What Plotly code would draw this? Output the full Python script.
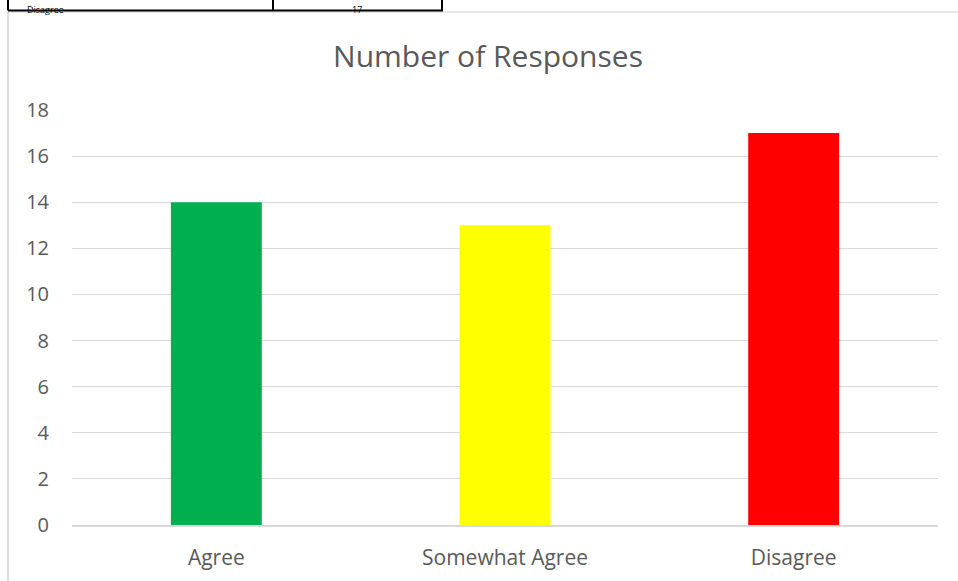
import plotly.graph_objects as go

categories = ["Agree", "Somewhat Agree", "Disagree"]
responses = [14, 13, 17]
bar_colors = ["#00B050", "#FFFF00", "#FF0000"]
y_ticks = [0, 2, 4, 6, 8, 10, 12, 14, 16, 18]
table_label = "Disagree"
table_value = "17"

W, H = 958, 581
def px(x):
    return x / W
def py(y):
    return (H - y) / H

FONT = "Open Sans"
GRAY = "#595959"

fig = go.Figure(go.Bar(
    x=categories, y=responses, marker_color=bar_colors,
    marker_line_width=0, width=0.315, hoverinfo="skip"))

fig.update_layout(
    width=W, height=H,
    margin=dict(l=0, r=0, t=0, b=0, autoexpand=False),
    paper_bgcolor="white", plot_bgcolor="white",
    showlegend=False,
    font=dict(family=FONT, color=GRAY, size=20),
    title=dict(text="Number of Responses", x=px(488), xanchor="center",
               y=py(56), yanchor="middle",
               font=dict(family=FONT, size=30, color=GRAY)),
    xaxis=dict(domain=[px(72), px(938)], showgrid=False, showline=True,
               linecolor="#D9D9D9", linewidth=1.5, ticks="", automargin=False,
               ticklabelstandoff=13, tickfont=dict(size=21, color=GRAY)),
    yaxis=dict(domain=[py(525), py(110)], range=[0, 18], tickvals=y_ticks,
               showgrid=True, gridcolor="#D9D9D9", gridwidth=1.2,
               zeroline=False, showline=False, ticks="", automargin=False,
               ticklabelstandoff=22, tickfont=dict(size=20, color=GRAY)),
)

shapes = []
# chart border (light gray)
shapes.append(dict(type="line", xref="paper", yref="paper",
                   x0=px(8), x1=px(8), y0=py(12), y1=py(581),
                   line=dict(color="#D0D0D0", width=1.5)))
shapes.append(dict(type="line", xref="paper", yref="paper",
                   x0=px(8), x1=px(958), y0=py(12), y1=py(12),
                   line=dict(color="#D0D0D0", width=1)))
# table borders (black)
shapes.append(dict(type="line", xref="paper", yref="paper",
                   x0=px(8), x1=px(443), y0=py(10.5), y1=py(10.5),
                   line=dict(color="black", width=2)))
for xv in [8, 273, 442]:
    shapes.append(dict(type="line", xref="paper", yref="paper",
                       x0=px(xv), x1=px(xv), y0=py(10.5), y1=py(0),
                       line=dict(color="black", width=2)))
fig.update_layout(shapes=shapes)

fig.add_annotation(text=table_label, xref="paper", yref="paper",
                   x=px(25), y=py(0.5), xanchor="left", yanchor="top",
                   showarrow=False, font=dict(family=FONT, size=9, color="black"))
fig.add_annotation(text=table_value, xref="paper", yref="paper",
                   x=px(357), y=py(0.5), xanchor="center", yanchor="top",
                   showarrow=False, font=dict(family=FONT, size=9, color="black"))

fig.write_html("out.html", config={"displayModeBar": False},
               post_script="document.body.style.margin='0px';document.body.style.overflow='hidden';")
